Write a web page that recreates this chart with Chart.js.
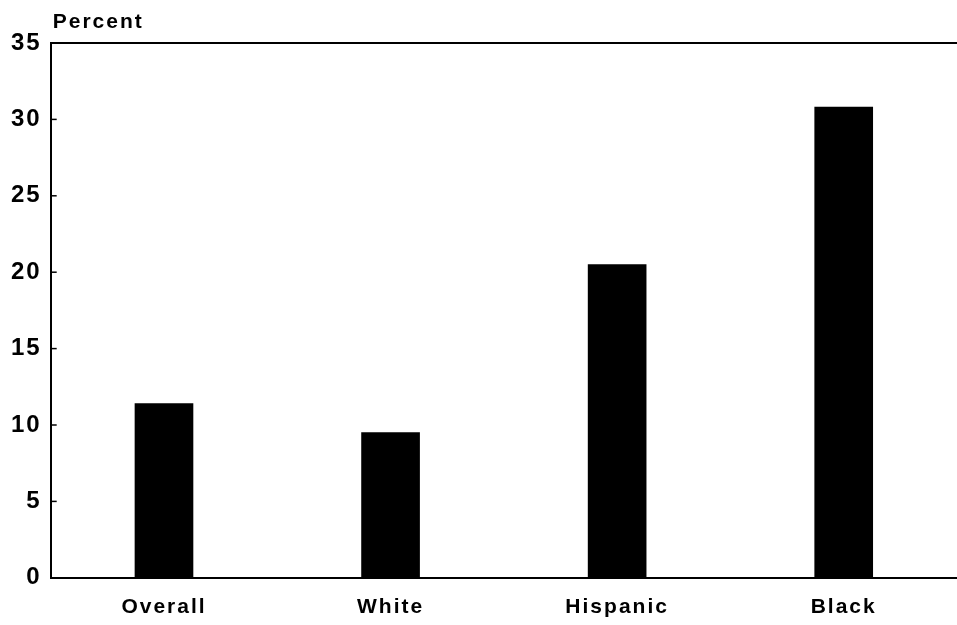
<!DOCTYPE html>
<html>
<head>
<meta charset="utf-8">
<script src="https://cdn.jsdelivr.net/npm/chart.js@4"></script>
<style>
  html, body { margin: 0; padding: 0; background: #fff; }
  #wrap { width: 957px; height: 625px; }
</style>
</head>
<body>
<div id="wrap"><canvas id="myChart"></canvas></div>
<script>
// data
const groups = ['Overall', 'White', 'Hispanic', 'Black'];
const percent = [11.4, 9.5, 20.5, 30.8];
const yTicks = [0, 5, 10, 15, 20, 25, 30, 35];

const ctx = document.getElementById('myChart').getContext('2d');

// letter spacing for the wide bold font
const spacing = {
    id: 'spacing',
    beforeDraw(chart) { chart.ctx.letterSpacing = '2px'; }
};

// "Percent" label above the axis + small inward tick marks
const extras = {
    id: 'extras',
    afterDraw(chart) {
        const c = chart.ctx;
        const y = chart.scales.y;
        const left = chart.chartArea.left;
        c.save();
        c.letterSpacing = '2px';
        c.fillStyle = '#000';
        c.font = 'bold 21px "Liberation Sans", Arial, sans-serif';
        c.textAlign = 'left';
        c.textBaseline = 'alphabetic';
        c.fillText('Percent', left + 2, 28);
        c.strokeStyle = '#000';
        c.lineWidth = 1.5;
        yTicks.forEach(v => {
            if (v === 0 || v === 35) return;
            const py = y.getPixelForValue(v);
            c.beginPath();
            c.moveTo(left, py);
            c.lineTo(left + 6, py);
            c.stroke();
        });
        c.restore();
    }
};

const myChart = new Chart(ctx, {
    type: 'bar',
    data: {
        labels: groups,
        datasets: [{
            data: percent,
            backgroundColor: '#000',
            barThickness: 58
        }]
    },
    options: {
        responsive: true,
        maintainAspectRatio: false,
        animation: false,
        layout: { padding: { top: 43, right: 0, left: 6, bottom: -12 } },
        plugins: {
            legend: { display: false },
            tooltip: { enabled: false }
        },
        scales: {
            x: {
                grid: { display: false, drawTicks: false },
                border: { display: true, color: '#000', width: 2 },
                ticks: {
                    color: '#000',
                    padding: 17,
                    font: { family: '"Liberation Sans", Arial, sans-serif', size: 21, weight: 'bold' }
                }
            },
            y: {
                min: 0,
                max: 35,
                afterBuildTicks(scale) { scale.ticks = yTicks.map(v => ({ value: v })); },
                grid: {
                    drawTicks: false,
                    color: c => c.tick && c.tick.value === 35 ? '#000' : 'rgba(0,0,0,0)',
                    lineWidth: 2
                },
                border: { display: true, color: '#000', width: 2 },
                ticks: {
                    color: '#000',
                    padding: 9,
                    font: { family: '"Liberation Sans", Arial, sans-serif', size: 24, weight: 'bold' }
                }
            }
        }
    },
    plugins: [spacing, extras]
});
</script>
</body>
</html>
